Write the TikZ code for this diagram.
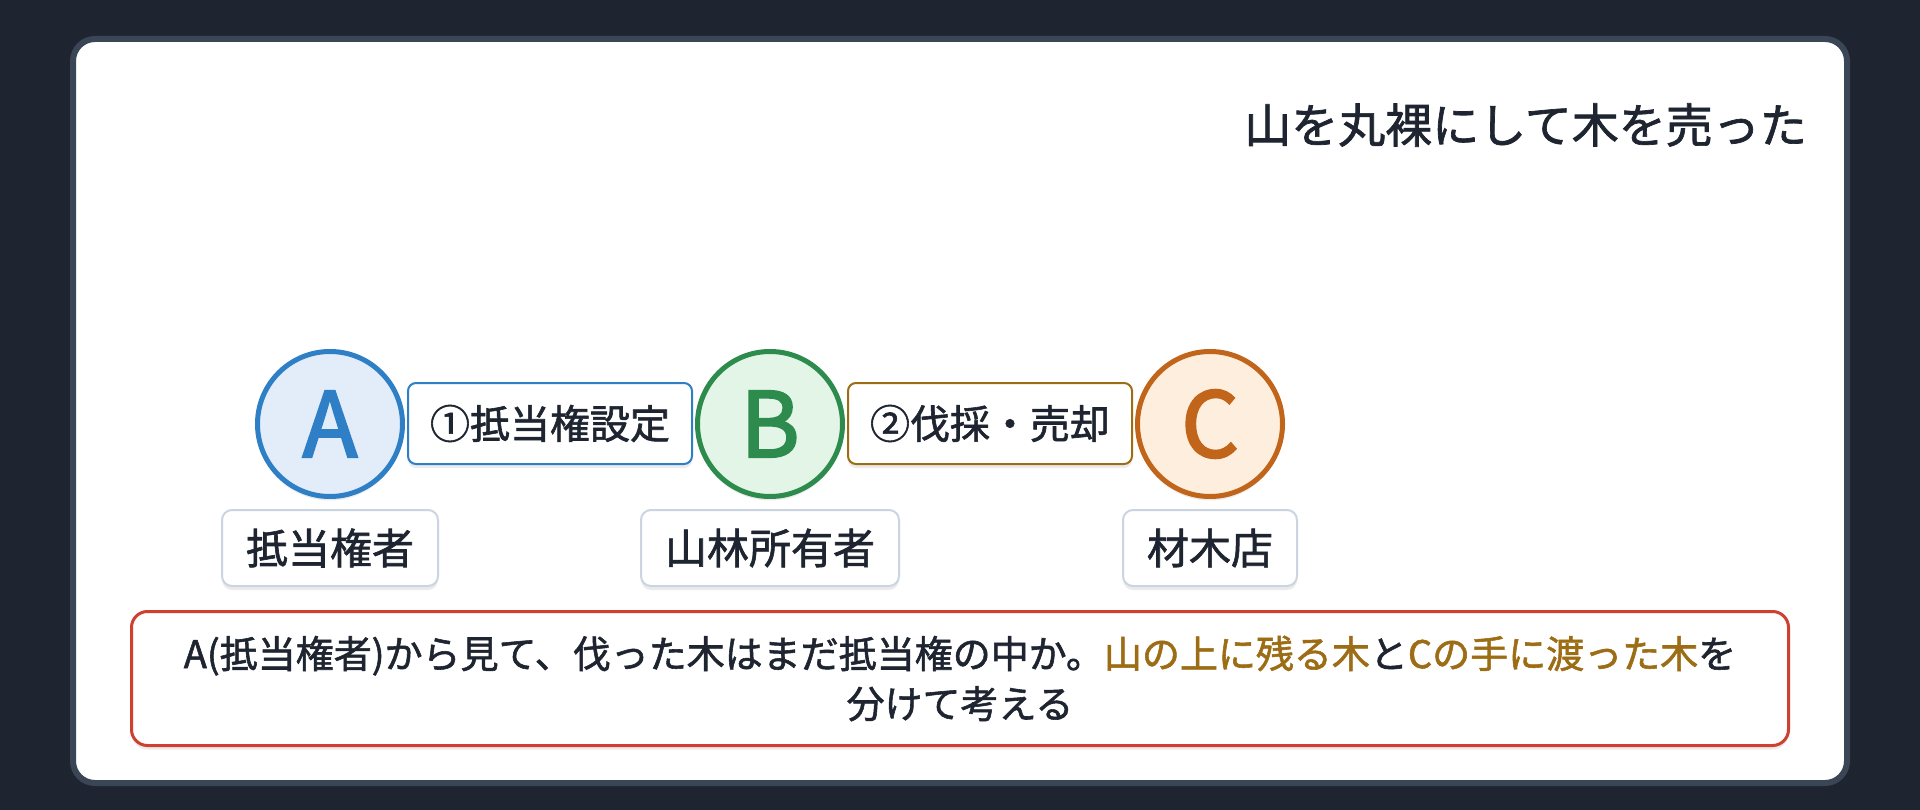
\documentclass[tikz,border=0pt]{standalone}
\usepackage{fontspec}
\setmainfont{Noto Sans CJK JP}
\newfontfamily\medfont{Noto Sans CJK JP}[FakeBold=1.5]
\newfontfamily\letterfont{Noto Sans CJK JP}[FakeBold=2.5]
\usetikzlibrary{shadows}
\definecolor{bgc}{HTML}{1E2530}
\definecolor{cardb}{HTML}{3A4556}
\definecolor{ink}{HTML}{1E2530}
\definecolor{aB}{HTML}{2F7FC6}
\definecolor{aF}{HTML}{E3EDF9}
\definecolor{bB}{HTML}{2E8B4E}
\definecolor{bF}{HTML}{E3F5E6}
\definecolor{cB}{HTML}{C0651A}
\definecolor{cF}{HTML}{FDEEDD}
\definecolor{gold}{HTML}{9C6D14}
\definecolor{redb}{HTML}{D04030}
\definecolor{grayb}{HTML}{CBD5E1}
\begin{document}
\begin{tikzpicture}[x=1pt,y=-1pt,
  softshadow/.style={drop shadow={shadow xshift=0pt, shadow yshift=-4pt, opacity=0.08, fill=black}},
  party/.style={circle, line width=5pt, minimum size=145pt, inner sep=0pt,
    font=\letterfont\fontsize{90}{90}\selectfont, softshadow},
  actlabel/.style={rectangle, rounded corners=8pt, line width=2pt, fill=white,
    minimum width=284pt, minimum height=81pt, inner sep=0pt, text=ink,
    font=\medfont\fontsize{40}{40}\selectfont, softshadow},
  namebox/.style={rectangle, rounded corners=10pt, line width=2pt, draw=grayb, fill=white,
    minimum height=76pt, inner xsep=24pt, inner ysep=0pt, text=ink,
    font=\medfont\fontsize{42}{42}\selectfont, softshadow},
  notebox/.style={rectangle, rounded corners=16pt, line width=3pt, draw=redb, fill=white,
    minimum width=1657pt, minimum height=134pt, inner sep=0pt, align=center, text=ink,
    font=\medfont\fontsize{38}{50}\selectfont, softshadow}
]
\fill[bgc] (0,0) rectangle (1920,810);
\draw[line width=6pt, draw=cardb, fill=white, rounded corners=22pt] (73,39) rectangle (1847,783);

\node[anchor=east, font=\medfont\fontsize{47}{47}\selectfont, text=ink, inner sep=0pt] (title) at (1807,125) {山を丸裸にして木を売った};

\node[party, draw=aB, fill=aF, text=aB] (A) at (330,424) {A};
\node[party, draw=bB, fill=bF, text=bB] (B) at (770,424) {B};
\node[party, draw=cB, fill=cF, text=cB] (C) at (1210,424) {C};

\node[actlabel, draw=aB] (l1) at (550,423.5) {①抵当権設定};
\node[actlabel, draw=gold] (l2) at (990,423.5) {②伐採・売却};

\node[namebox] (nA) at (330,548) {抵当権者};
\node[namebox] (nB) at (770,548) {山林所有者};
\node[namebox] (nC) at (1210,548) {材木店};

\node[notebox] (note) at (960,678.5) {A(抵当権者)から見て、伐った木はまだ抵当権の中か。\textcolor{gold}{山の上に残る木}と\textcolor{gold}{Cの手に渡った木}を\\分けて考える};
\end{tikzpicture}
\end{document}
